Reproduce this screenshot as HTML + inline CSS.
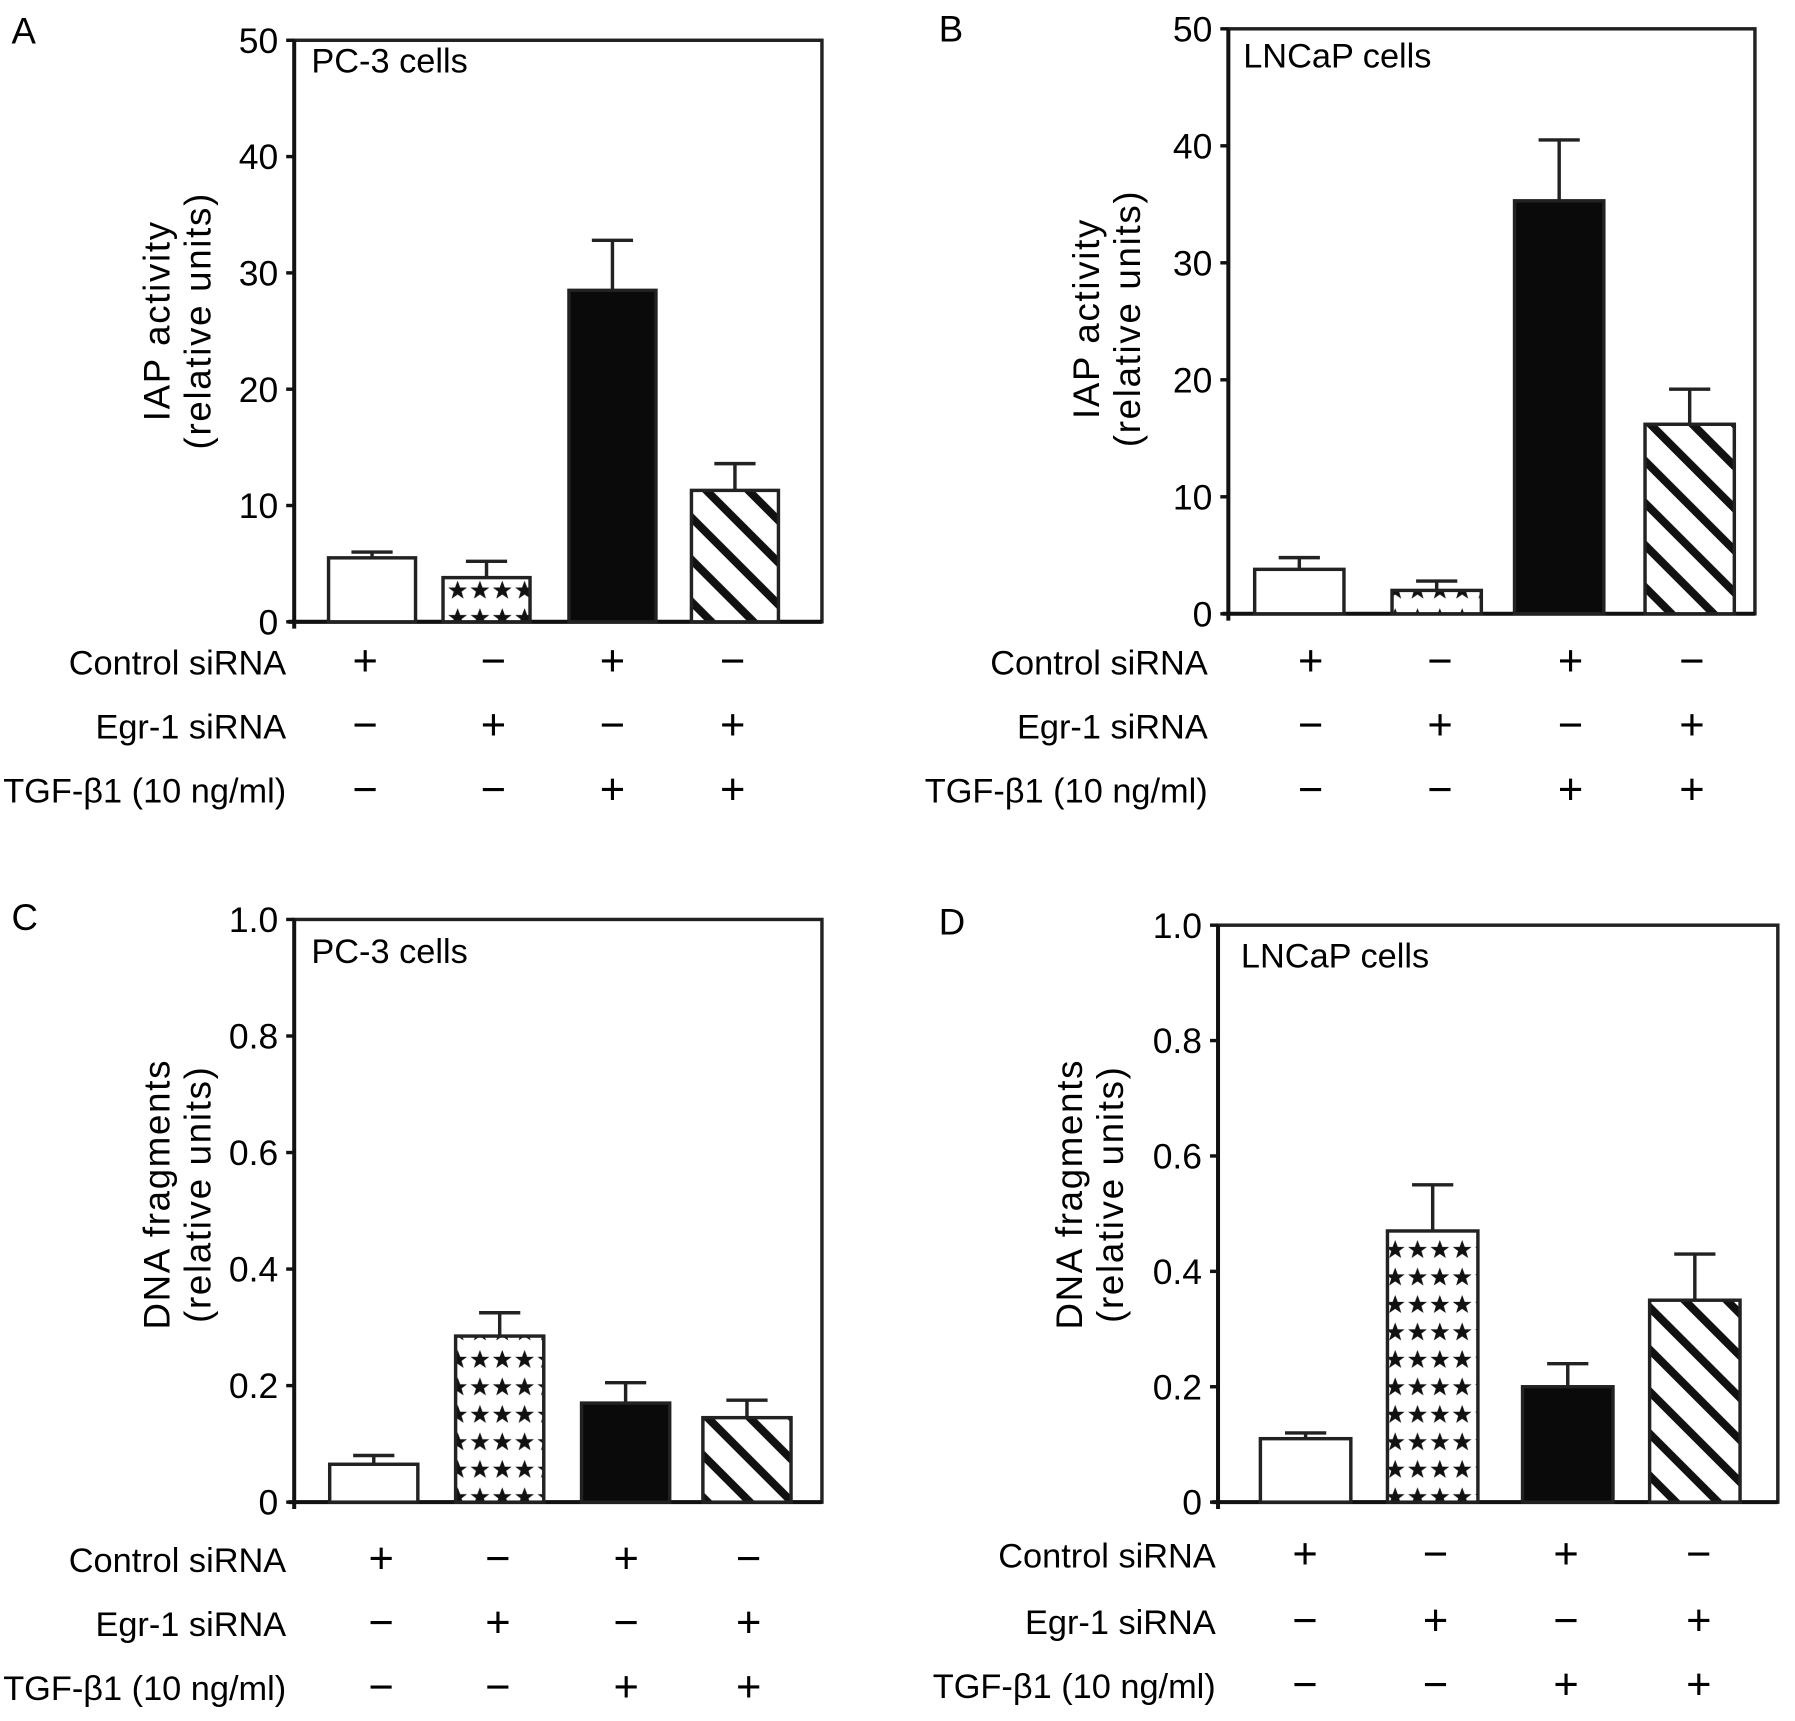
<!DOCTYPE html>
<html><head><meta charset="utf-8"><style>
html,body{margin:0;padding:0;background:#fff}
svg{display:block}
text{font-family:"Liberation Sans",Arial,sans-serif;fill:#000}
</style></head><body>
<svg id="fig" width="1795" height="1721" viewBox="0 0 1568 1503" xmlns="http://www.w3.org/2000/svg">
<defs>
<pattern id="stars" patternUnits="userSpaceOnUse" width="19.5" height="24" x="0" y="0">
<rect width="19.5" height="24" fill="#fff"/>
<polygon points="9.75,3 12,9 18,9 13.2,12.7 15,18.8 9.75,15.2 4.5,18.8 6.3,12.7 1.5,9 7.5,9" fill="#111"/>
</pattern>
<pattern id="hatch" patternUnits="userSpaceOnUse" width="26" height="26" patternTransform="rotate(-45)">
<rect width="26" height="26" fill="#fff"/>
<rect x="0" y="0" width="7" height="26" fill="#111"/>
</pattern>
</defs>
</svg>
<script>
const panelLetters = ["A","B","C","D"];
const cellLabels = ["PC-3 cells","LNCaP cells","PC-3 cells","LNCaP cells"];
const yTitles1 = ["IAP activity","IAP activity","DNA  fragments","DNA  fragments"];
const yTitles2 = ["(relative units)","(relative units)","(relative units)","(relative units)"];
const yMax = [50,50,1.0,1.0];
const tickValsA = [0,10,20,30,40,50];
const tickLabelsA = ["0","10","20","30","40","50"];
const tickValsC = [0,0.2,0.4,0.6,0.8,1.0];
const tickLabelsC = ["0","0.2","0.4","0.6","0.8","1.0"];
const valuesA = [5.5,3.8,28.5,11.3];
const errorsA = [6.0,5.2,32.8,13.6];
const valuesB = [3.8,2.0,35.3,16.2];
const errorsB = [4.8,2.8,40.5,19.2];
const valuesC = [0.065,0.285,0.17,0.145];
const errorsC = [0.08,0.325,0.205,0.175];
const valuesD = [0.11,0.47,0.2,0.35];
const errorsD = [0.12,0.55,0.24,0.43];
const rowNames = ["Control siRNA","Egr-1 siRNA","TGF-\u03b21 (10 ng/ml)"];
const controlSigns = ["+","\u2212","+","\u2212"];
const egrSigns = ["\u2212","+","\u2212","+"];
const tgfSigns = ["\u2212","\u2212","+","+"];
const fills = ["#fff","url(#stars)","#0a0a0a","url(#hatch)"];

const layouts = [
 {L:257,T:35,R:718,B:543,bx:[287,387,497,604],bw:76,lx:250,ly:[578,634,690],sx:[319,431,535,640],letter:[10,38],tx:148,ty:280,cell:[272,63]},
 {L:1073,T:25,R:1533,B:536,bx:[1096,1216,1323,1437],bw:78,lx:1055,ly:[578,634,690],sx:[1145,1258,1372,1478],letter:[820,36],tx:960,ty:278,cell:[1086,59]},
 {L:257,T:803,R:718,B:1312,bx:[288,398,508,614],bw:77,lx:250,ly:[1362,1418,1474],sx:[333,435,547,654],letter:[10,812],tx:148,ty:1043,cell:[272,841]},
 {L:1064,T:808,R:1553,B:1312,bx:[1101,1212,1330,1441],bw:79,lx:1062,ly:[1358,1416,1472],sx:[1140,1254,1368,1484],letter:[820,816],tx:945,ty:1043,cell:[1084,845]}
];
const allValues=[valuesA,valuesB,valuesC,valuesD];
const allErrors=[errorsA,errorsB,errorsC,errorsD];
const allTickVals=[tickValsA,tickValsA,tickValsC,tickValsC];
const allTickLabels=[tickLabelsA,tickLabelsA,tickLabelsC,tickLabelsC];
const signRows=[controlSigns,egrSigns,tgfSigns];

const svg=document.getElementById('fig');
const NS='http://www.w3.org/2000/svg';
function mk(tag,attrs,parent){const e=document.createElementNS(NS,tag);for(const k in attrs)e.setAttribute(k,attrs[k]);(parent||svg).appendChild(e);return e;}

layouts.forEach((p,i)=>{
 const g=mk('g',{});
 
 
 const yS=v=>p.B-(v/yMax[i])*(p.B-p.T);
 const lt=mk('text',{x:p.letter[0],y:p.letter[1],'font-size':32},g);lt.textContent=panelLetters[i];
 
 
 const frame=mk('rect',{x:p.L,y:p.T,width:p.R-p.L,height:p.B-p.T,fill:'none',stroke:'#222','stroke-width':3},g);
 
 
 mk('line',{x1:p.L-5,y1:p.B,x2:p.R,y2:p.B,stroke:'#111','stroke-width':3.5},g);
 mk('line',{x1:p.L,y1:p.T,x2:p.L,y2:p.B+6,stroke:'#111','stroke-width':3.5},g);
 const cl=mk('text',{x:p.cell[0],y:p.cell[1],'font-size':30},g);cl.textContent=cellLabels[i];
 
 
 allTickVals[i].forEach((v,j)=>{
  const y=yS(v);
  mk('line',{x1:p.L-7,y1:y,x2:p.L,y2:y,stroke:'#111','stroke-width':3},g);
  const t=mk('text',{x:p.L-14,y:y+11,'font-size':31,'text-anchor':'end'},g);t.textContent=allTickLabels[i][j];
  
  
 });
 const yt=mk('text',{transform:`translate(${p.tx},${p.ty}) rotate(-90)`,'font-size':32,'text-anchor':'middle','letter-spacing':'1.5'},g);
 const s1=mk('tspan',{x:0,y:0},yt);s1.textContent=yTitles1[i];
 const s2=mk('tspan',{x:0,y:36},yt);s2.textContent=yTitles2[i];
 
 
 allValues[i].forEach((v,j)=>{
  const x=p.bx[j],y=yS(v),e=yS(allErrors[i][j]),cx=x+p.bw/2;
  const eb=mk('g',{},g);
  
  
  mk('line',{x1:cx,y1:y,x2:cx,y2:e,stroke:'#222','stroke-width':3},eb);
  mk('line',{x1:cx-18,y1:e,x2:cx+18,y2:e,stroke:'#222','stroke-width':3},eb);
  const b=mk('rect',{x:x,y:y,width:p.bw,height:p.B-y,fill:fills[j],stroke:'#222','stroke-width':3},g);
  
  
 });
 rowNames.forEach((n,r)=>{
  const t=mk('text',{x:p.lx,y:p.ly[r]+11,'font-size':30,'text-anchor':'end'},g);t.textContent=n;
  
  
  signRows[r].forEach((s,j)=>{
   const st=mk('text',{x:p.sx[j],y:p.ly[r]+12,'font-size':38,'font-weight':'300','text-anchor':'middle'},g);st.textContent=s;
   
   
  });
 });
});
</script>
</body></html>
